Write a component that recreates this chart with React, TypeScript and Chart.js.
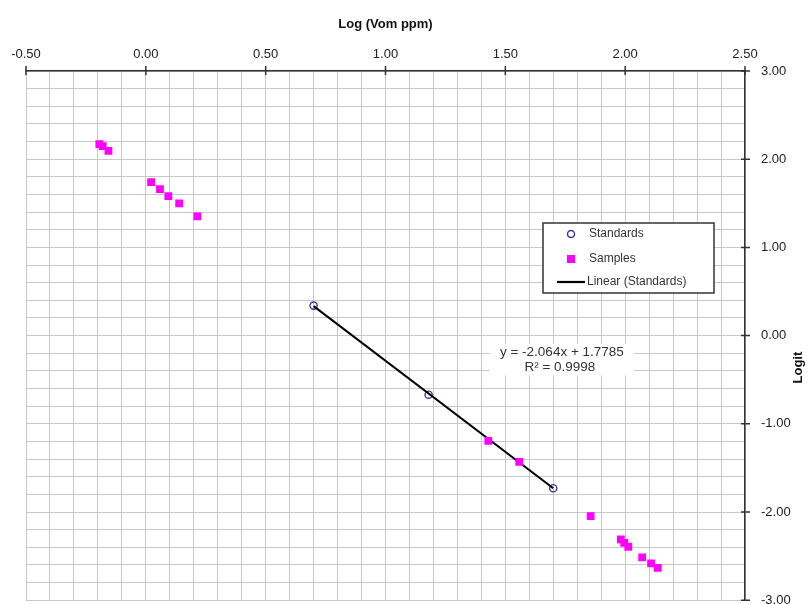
import React, { useEffect, useRef } from 'react';
import { Chart, registerables } from 'chart.js';

Chart.register(...registerables);

// ---------- data ----------
const xAxisTitle = 'Log (Vom ppm)';
const yAxisTitle = 'Logit';
const seriesLabels = ['Standards', 'Samples', 'Linear (Standards)'];

const standardsX = [0.70, 1.18, 1.70];
const standardsY = [0.34, -0.67, -1.73];

const samplesX = [-0.194, -0.180, -0.156, 0.022, 0.059, 0.094, 0.139, 0.215, 1.429, 1.558, 1.856, 1.982, 1.996, 2.013, 2.071, 2.108, 2.136];
const samplesY = [2.171, 2.149, 2.095, 1.740, 1.661, 1.582, 1.499, 1.351, -1.193, -1.431, -2.047, -2.311, -2.349, -2.394, -2.515, -2.583, -2.633];

const trendSlope = -2.064;
const trendIntercept = 1.7785;
const trendR2 = '0.9998';

const xMajorTicks = [-0.5, 0, 0.5, 1, 1.5, 2, 2.5];
const yMajorTicks = [-3, -2, -1, 0, 1, 2, 3];
const xMinorStep = 0.1;
const yMinorStep = 0.2;

// equation label anchor (data coordinates)
const eqAnchorX = 1.736;
const eqAnchorY = -0.27;

const FONT = "'Liberation Sans', Arial, Helvetica, sans-serif";
const SAMPLE_COLOR = '#ff00ff';
const STANDARD_COLOR = '#3c3c96';
const CANVAS_W = 811;
const CANVAS_H = 624;

const isMajor = (v: number, majors: number[]) => majors.some((m) => Math.abs(m - v) < 1e-6);

const App: React.FC = () => {
  const canvasRef = useRef<HTMLCanvasElement | null>(null);

  useEffect(() => {
    if (!canvasRef.current) return;

    const standards = standardsX.map((x, i) => ({ x, y: standardsY[i] }));
    const samples = samplesX.map((x, i) => ({ x, y: samplesY[i] }));
    const tx0 = Math.min(...standardsX);
    const tx1 = Math.max(...standardsX);
    const trend = [
      { x: tx0, y: trendSlope * tx0 + trendIntercept },
      { x: tx1, y: trendSlope * tx1 + trendIntercept },
    ];
    const eqText = `y = ${trendSlope}x + ${trendIntercept}`;
    const r2Text = `R² = ${trendR2}`;

    const decorPlugin = {
      id: 'decor',
      afterDraw(chart: any) {
        const ctx = chart.ctx as CanvasRenderingContext2D;
        const { top, right, left, bottom } = chart.chartArea;
        const xs = chart.scales.x;
        const ys = chart.scales.y;
        ctx.save();
        // major tick marks crossing the axes
        ctx.strokeStyle = '#333';
        ctx.lineWidth = 1.5;
        ctx.beginPath();
        xMajorTicks.forEach((v) => {
          const px = xs.getPixelForValue(v);
          ctx.moveTo(px, top - 5);
          ctx.lineTo(px, top + 4);
        });
        yMajorTicks.forEach((v) => {
          const py = ys.getPixelForValue(v);
          ctx.moveTo(right - 4, py);
          ctx.lineTo(right + 5, py);
        });
        ctx.stroke();

        // axis titles
        ctx.fillStyle = '#111';
        ctx.font = `bold 13px ${FONT}`;
        ctx.textAlign = 'center';
        ctx.textBaseline = 'middle';
        ctx.fillText(xAxisTitle, (left + right) / 2, 24);
        ctx.save();
        ctx.translate(798, (top + bottom) / 2 + 32);
        ctx.rotate(-Math.PI / 2);
        ctx.fillText(yAxisTitle, 0, 0);
        ctx.restore();

        // equation label
        const ex = xs.getPixelForValue(eqAnchorX);
        const ey = ys.getPixelForValue(eqAnchorY);
        ctx.fillStyle = '#ffffff';
        ctx.fillRect(ex - 72, ey - 16, 144, 32);
        ctx.fillStyle = '#333';
        ctx.font = `13.5px ${FONT}`;
        ctx.fillText(eqText, ex, ey - 7.5);
        ctx.fillText(r2Text, ex - 2, ey + 7.5);

        // legend
        const lx = right - 202;
        const ly = top + 152;
        const lw = 171;
        const lh = 70;
        ctx.fillStyle = '#ffffff';
        ctx.fillRect(lx, ly, lw, lh);
        ctx.strokeStyle = '#333';
        ctx.lineWidth = 1.5;
        ctx.strokeRect(lx, ly, lw, lh);
        const rows = [ly + 11, ly + 36, ly + 59];
        const mx = lx + 28;
        ctx.beginPath();
        ctx.arc(mx, rows[0], 3.5, 0, Math.PI * 2);
        ctx.strokeStyle = STANDARD_COLOR;
        ctx.lineWidth = 1.5;
        ctx.stroke();
        ctx.fillStyle = SAMPLE_COLOR;
        ctx.fillRect(mx - 4, rows[1] - 4, 8, 8);
        ctx.beginPath();
        ctx.moveTo(lx + 14, rows[2]);
        ctx.lineTo(lx + 42, rows[2]);
        ctx.strokeStyle = '#000';
        ctx.lineWidth = 2.2;
        ctx.stroke();
        ctx.fillStyle = '#333';
        ctx.font = `12px ${FONT}`;
        ctx.textAlign = 'left';
        ctx.fillText(seriesLabels[0], lx + 46, rows[0]);
        ctx.fillText(seriesLabels[1], lx + 46, rows[1]);
        ctx.fillText(seriesLabels[2], lx + 44, rows[2]);
        ctx.restore();
      },
    };

    const chart = new Chart(canvasRef.current, {
      type: 'scatter',
      data: {
        datasets: [
          {
            label: seriesLabels[1],
            data: samples,
            pointStyle: 'rect',
            pointRadius: 5.5,
            pointHoverRadius: 5.5,
            backgroundColor: SAMPLE_COLOR,
            borderColor: SAMPLE_COLOR,
            borderWidth: 0,
            order: 0,
          } as any,
          {
            label: seriesLabels[2],
            data: trend,
            showLine: true,
            borderColor: '#000',
            borderWidth: 2,
            pointRadius: 0,
            order: 1,
          } as any,
          {
            label: seriesLabels[0],
            data: standards,
            pointStyle: 'circle',
            pointRadius: 3.6,
            backgroundColor: 'rgba(255,255,255,0)',
            borderColor: STANDARD_COLOR,
            borderWidth: 1.4,
            order: 2,
          } as any,
        ],
      },
      options: {
        animation: false,
        responsive: false,
        maintainAspectRatio: false,
        devicePixelRatio: 1,
        layout: { padding: { left: 26, right: 0, top: 0, bottom: 16 } },
        plugins: {
          legend: { display: false },
          tooltip: { enabled: false },
          title: { display: false },
        },
        scales: {
          x: {
            type: 'linear',
            position: 'top',
            min: xMajorTicks[0],
            max: xMajorTicks[xMajorTicks.length - 1],
            afterFit: (s: any) => {
              s.height = 71;
            },
            ticks: {
              stepSize: xMinorStep,
              maxTicksLimit: 200,
              autoSkip: false,
              maxRotation: 0,
              padding: 9,
              color: '#222',
              font: { family: FONT, size: 13 },
              callback: (v: any) => (isMajor(Number(v), xMajorTicks) ? Number(v).toFixed(2) : ''),
            },
            grid: { color: '#c8c8c8', lineWidth: 1, drawTicks: false },
            border: { display: true, color: '#333', width: 1.5 },
          },
          y: {
            type: 'linear',
            position: 'right',
            min: yMajorTicks[0],
            max: yMajorTicks[yMajorTicks.length - 1],
            afterFit: (s: any) => {
              s.width = 66;
            },
            ticks: {
              stepSize: yMinorStep,
              maxTicksLimit: 200,
              autoSkip: false,
              padding: 16,
              color: '#222',
              font: { family: FONT, size: 13 },
              callback: (v: any) => (isMajor(Number(v), yMajorTicks) ? Number(v).toFixed(2) : ''),
            },
            grid: { color: '#c8c8c8', lineWidth: 1, drawTicks: false },
            border: { display: true, color: '#333', width: 1.5 },
          },
        },
      } as any,
      plugins: [decorPlugin],
    });

    return () => {
      chart.destroy();
    };
  }, []);

  return (
    <div style={{ position: 'fixed', left: 0, top: 0, width: CANVAS_W, height: CANVAS_H, background: '#fff' }}>
      <canvas ref={canvasRef} width={CANVAS_W} height={CANVAS_H} style={{ display: 'block' }} />
    </div>
  );
};

export default App;
